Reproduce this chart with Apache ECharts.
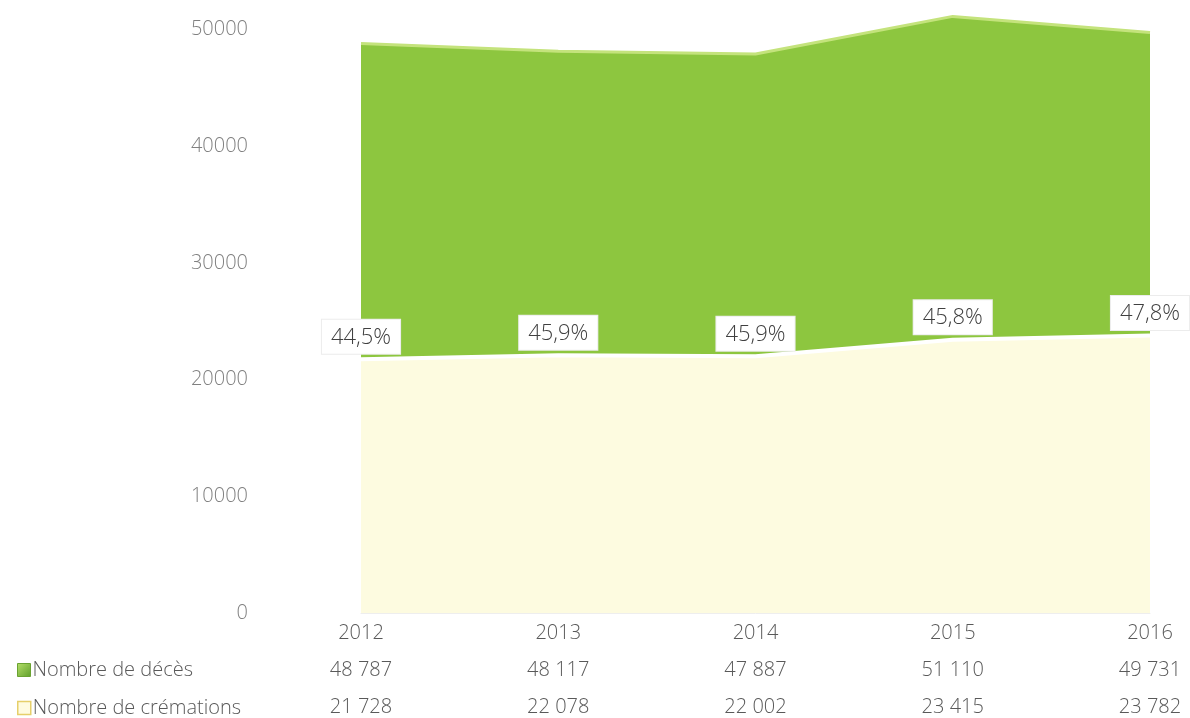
<!DOCTYPE html>
<html>
<head>
<meta charset="utf-8">
<script src="https://cdn.jsdelivr.net/npm/echarts@6/dist/echarts.min.js"></script>
<style>
html,body{margin:0;padding:0;background:#fff;}
#chart{width:1190px;height:718px;}
</style>
</head>
<body>
<div id="chart"></div>
<script>
const years = ['2012', '2013', '2014', '2015', '2016'];
const deaths = [48787, 48117, 47887, 51110, 49731];
const cremations = [21728, 22078, 22002, 23415, 23782];
const pctLabels = ['44,5%', '45,9%', '45,9%', '45,8%', '47,8%'];
const deathsText = ['48 787', '48 117', '47 887', '51 110', '49 731'];
const cremText = ['21 728', '22 078', '22 002', '23 415', '23 782'];
const yTicks = { min: 0, max: 52000, interval: 10000 };

const FONT = '"Open Sans", "Noto Sans", sans-serif';
const legendText = { fontFamily: FONT, fontSize: 20, fontWeight: 300, color: '#595959', padding: [0, 0, 0, -3] };
const chart = echarts.init(document.getElementById('chart'));
chart.setOption({
  animation: false,
  textStyle: { fontFamily: FONT },
  grid: { left: 361, right: 40, top: 6, bottom: 105, containLabel: false, outerBoundsMode: 'none' },
  legend: [
    {
      left: 12, top: 655, itemWidth: 13, itemHeight: 13, icon: 'rect',
      textStyle: legendText,
      data: [{ name: 'Nombre de décès', itemStyle: { color: new echarts.graphic.LinearGradient(0, 0, 1, 1, [{ offset: 0, color: '#b6e06a' }, { offset: 1, color: '#5e9e2a' }]), borderColor: '#6aa232', borderWidth: 1, opacity: 1 } }]
    },
    {
      left: 12, top: 693, itemWidth: 13, itemHeight: 13, icon: 'rect',
      textStyle: legendText,
      data: [{ name: 'Nombre de crémations', itemStyle: { color: '#fffbe0', borderColor: '#e6cf6a', borderWidth: 1.5, opacity: 1 } }]
    }
  ],
  xAxis: {
    type: 'category',
    data: years,
    boundaryGap: false,
    axisLine: { show: true, lineStyle: { color: '#eeeeee' } },
    axisTick: { show: false },
    axisLabel: {
      margin: 2,
      fontFamily: FONT,
      fontSize: 20,
      fontWeight: 300,
      color: '#595959',
      lineHeight: 37,
      formatter: function (v, i) { return v + '\n' + deathsText[i] + '\n' + cremText[i]; }
    }
  },
  yAxis: {
    type: 'value',
    min: yTicks.min,
    max: yTicks.max,
    interval: yTicks.interval,
    axisLine: { show: false },
    axisTick: { show: false },
    splitLine: { show: false },
    axisLabel: {
      margin: 113, fontFamily: FONT, fontSize: 20, fontWeight: 300, color: '#808080',
      showMaxLabel: false,
      formatter: function (v) { return v > 50000 ? '' : String(v); }
    }
  },
  series: [
    {
      name: 'Nombre de décès',
      type: 'line',
      data: deaths,
      symbol: 'none',
      lineStyle: { color: '#c4e37c', width: 3 },
      areaStyle: { color: '#8dc63f', opacity: 1 },
      z: 1
    },
    {
      name: 'Nombre de crémations',
      type: 'line',
      data: cremations,
      symbol: 'circle',
      symbolSize: 1,
      showSymbol: true,
      itemStyle: { color: 'rgba(255,255,255,0)' },
      lineStyle: { color: '#ffffff', width: 4 },
      areaStyle: { color: '#fdfbe0', opacity: 1 },
      z: 2,
      label: {
        show: true,
        position: 'top',
        distance: 5,
        formatter: function (p) { return pctLabels[p.dataIndex]; },
        backgroundColor: '#ffffff',
        borderColor: '#ececec',
        borderWidth: 1,
        padding: [7, 9, 5, 9],
        fontFamily: FONT,
        fontSize: 22,
        fontWeight: 300,
        color: '#404040'
      }
    }
  ]
});
</script>
</body>
</html>
